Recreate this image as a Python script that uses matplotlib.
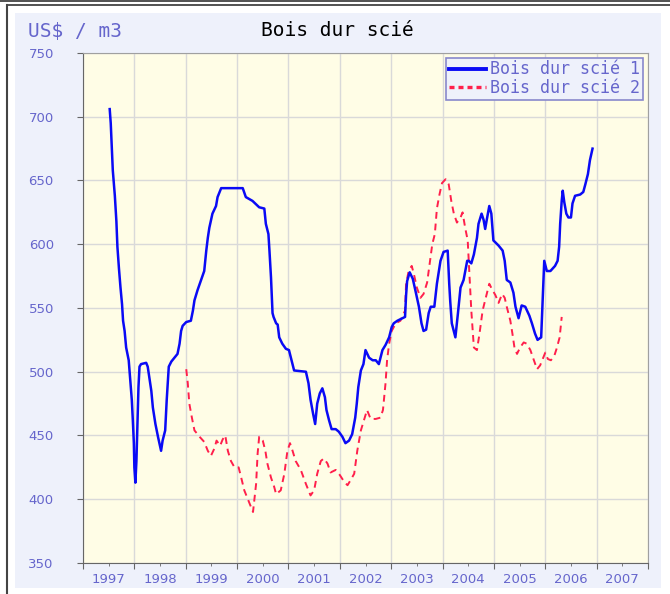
import matplotlib
matplotlib.use("Agg")
import matplotlib.pyplot as plt
from matplotlib.patches import Rectangle
from matplotlib.lines import Line2D
from matplotlib.ticker import FixedLocator, NullFormatter

# Bois dur scié 1 (decimal year, US$/m3)
blue_t = [1997.52, 1997.54, 1997.56, 1997.58, 1997.62, 1997.65, 1997.67, 1997.70, 1997.73, 1997.76,
          1997.78, 1997.81, 1997.84, 1997.89, 1997.92, 1997.95, 1997.97, 1997.99, 1998.00, 1998.02,
          1998.04, 1998.06, 1998.08, 1998.10, 1998.13, 1998.23, 1998.26, 1998.30, 1998.33, 1998.36,
          1998.41, 1998.46, 1998.52, 1998.55, 1998.60, 1998.63, 1998.67, 1998.72, 1998.78, 1998.84,
          1998.88, 1998.91, 1998.94, 1999.01, 1999.10, 1999.14, 1999.17, 1999.23, 1999.30, 1999.36,
          1999.40, 1999.43, 1999.46, 1999.52, 1999.59, 1999.62, 1999.69, 2000.11, 2000.17, 2000.30,
          2000.43, 2000.53, 2000.56, 2000.61, 2000.63, 2000.66, 2000.68, 2000.69, 2000.71, 2000.76,
          2000.79, 2000.82, 2000.88, 2000.95, 2001.01, 2001.08, 2001.11, 2001.34, 2001.39, 2001.43,
          2001.48, 2001.52, 2001.56, 2001.61, 2001.66, 2001.71, 2001.74, 2001.79, 2001.84, 2001.92,
          2001.98, 2002.05, 2002.11, 2002.18, 2002.24, 2002.30, 2002.33, 2002.36, 2002.41, 2002.46,
          2002.50, 2002.57, 2002.64, 2002.70, 2002.76, 2002.83, 2002.89, 2002.96, 2003.01, 2003.05,
          2003.12, 2003.27, 2003.29, 2003.31, 2003.36, 2003.42, 2003.47, 2003.54, 2003.59, 2003.63,
          2003.68, 2003.73, 2003.77, 2003.84, 2003.89, 2003.96, 2004.02, 2004.10, 2004.13, 2004.15,
          2004.18, 2004.25, 2004.30, 2004.35, 2004.41, 2004.48, 2004.51, 2004.56, 2004.61, 2004.67,
          2004.70, 2004.76, 2004.80, 2004.83, 2004.86, 2004.91, 2004.95, 2004.99, 2005.09, 2005.17,
          2005.21, 2005.25, 2005.32, 2005.38, 2005.42, 2005.48, 2005.54, 2005.61, 2005.69, 2005.74,
          2005.80, 2005.85, 2005.92, 2005.95, 2005.98, 2006.03, 2006.10, 2006.19, 2006.24, 2006.27,
          2006.29, 2006.32, 2006.34, 2006.37, 2006.41, 2006.45, 2006.50, 2006.53, 2006.58, 2006.68,
          2006.74, 2006.78, 2006.83, 2006.87, 2006.92]
blue_v = [706, 695, 677, 658, 638, 618, 598, 581, 566, 553,
          540, 532, 519, 509, 493, 478, 462, 444, 425, 413,
          430, 459, 488, 504, 506, 507, 504, 493, 485, 472,
          459, 449, 438, 446, 454, 478, 504, 508, 511, 514,
          522, 532, 536, 539, 540, 548, 556, 564, 572, 579,
          595, 605, 613, 624, 630, 637, 644, 644, 637, 634,
          629, 628, 616, 608, 595, 574, 556, 546, 543, 538,
          537, 527, 522, 518, 517, 506, 501, 500, 491, 478,
          467, 459, 475, 483, 487, 480, 470, 462, 455, 455,
          453, 449, 444, 446, 451, 464, 475, 488, 501, 506,
          517, 511, 509, 509, 506, 517, 521, 527, 535, 538,
          540, 543, 560, 571, 578, 573, 564, 551, 538, 532,
          533, 546, 551, 551, 569, 587, 594, 595, 569, 555,
          538, 527, 546, 566, 572, 587, 587, 585, 592, 605,
          616, 624, 619, 612, 619, 630, 624, 603, 599, 595,
          587, 572, 570, 562, 551, 542, 552, 551, 544, 538,
          530, 525, 527, 558, 587, 579, 579, 583, 587, 598,
          616, 634, 642, 633, 624, 621, 621, 632, 638, 639,
          641, 647, 655, 666, 675]

# Bois dur scié 2
red_t = [1999.01, 1999.04, 1999.07, 1999.12, 1999.17, 1999.27, 1999.36, 1999.43, 1999.49, 1999.56,
         1999.60, 1999.67, 1999.72, 1999.77, 1999.82, 1999.88, 1999.95, 2000.03, 2000.08, 2000.14,
         2000.20, 2000.27, 2000.31, 2000.37, 2000.40, 2000.43, 2000.50, 2000.55, 2000.59, 2000.66,
         2000.72, 2000.76, 2000.85, 2000.92, 2000.98, 2001.03, 2001.08, 2001.14, 2001.24, 2001.34,
         2001.43, 2001.50, 2001.56, 2001.63, 2001.69, 2001.76, 2001.82, 2001.92, 2002.00, 2002.08,
         2002.15, 2002.21, 2002.28, 2002.34, 2002.41, 2002.47, 2002.53, 2002.60, 2002.70, 2002.79,
         2002.84, 2002.89, 2002.92, 2002.96, 2003.01, 2003.09, 2003.18, 2003.27, 2003.29, 2003.34,
         2003.40, 2003.44, 2003.50, 2003.57, 2003.63, 2003.70, 2003.75, 2003.80, 2003.85, 2003.89,
         2003.94, 2003.99, 2004.06, 2004.12, 2004.17, 2004.22, 2004.28, 2004.35, 2004.39, 2004.44,
         2004.49, 2004.52, 2004.56, 2004.61, 2004.67, 2004.72, 2004.78, 2004.86, 2004.91, 2004.96,
         2005.03, 2005.09, 2005.16, 2005.21, 2005.25, 2005.32, 2005.36, 2005.40, 2005.45, 2005.51,
         2005.58, 2005.64, 2005.71, 2005.77, 2005.84, 2005.90, 2005.95, 2006.00, 2006.05, 2006.11,
         2006.18, 2006.22, 2006.28, 2006.32]
red_v = [502, 491, 475, 464, 454, 449, 445, 438, 434, 440,
         446, 442, 447, 450, 438, 430, 425, 425, 417, 407,
         401, 394, 390, 412, 436, 449, 446, 438, 428, 417,
         410, 404, 407, 420, 438, 444, 438, 430, 423, 412,
         403, 407, 420, 430, 432, 428, 421, 423, 419, 414,
         411, 415, 420, 438, 454, 462, 470, 463, 463, 464,
         470, 491, 509, 522, 532, 538, 540, 548, 569, 579,
         583, 577, 566, 558, 561, 570, 585, 600, 608, 628,
         639, 648, 651, 647, 634, 624, 617, 621, 625, 613,
         603, 579, 548, 519, 517, 530, 548, 561, 569, 565,
         560, 554, 561, 558, 551, 540, 530, 519, 514, 519,
         523, 522, 517, 510, 502, 505, 510, 515, 510, 509,
         513, 518, 527, 543]

years = list(range(1997, 2008))

W, H = 670, 594
fig = plt.figure(figsize=(W / 100, H / 100), dpi=100)
fig.patch.set_facecolor('white')

# outer frame and light panel
fig.add_artist(Rectangle((15 / W, 1 - 588 / H), (661 - 15) / W, (588 - 13) / H,
                         transform=fig.transFigure, facecolor='#eef1fb', edgecolor='none', zorder=-10))
fig.add_artist(Line2D([0, 1], [1 - 1 / H, 1 - 1 / H], transform=fig.transFigure, color='#333333', lw=1.2))
fig.add_artist(Line2D([6.5 / W, 1], [1 - 4.5 / H, 1 - 4.5 / H], transform=fig.transFigure, color='#333333', lw=1.2))
fig.add_artist(Line2D([6.5 / W, 6.5 / W], [0, 1 - 4.5 / H], transform=fig.transFigure, color='#444444', lw=1.5))

ax = fig.add_axes([83 / W, 1 - 563 / H, (648 - 83) / W, (563 - 53) / H])
ax.set_facecolor('#fffde6')

ax.plot(blue_t, blue_v, color='#0a0af5', lw=1.8, label='Bois dur scié 1', zorder=3)
ax.plot(red_t, red_v, color='#ff1f4b', lw=1.4, dashes=(3.5, 2.5), label='Bois dur scié 2', zorder=2)

ax.set_xlim(1997, 2008)
ax.set_ylim(350, 750)

ax.xaxis.set_major_locator(FixedLocator(years + [2008]))
ax.xaxis.set_major_formatter(NullFormatter())
ax.xaxis.set_minor_locator(FixedLocator([y + 0.5 for y in years]))
ax.set_xticklabels([str(y) for y in years], minor=True)
ax.set_yticks(range(350, 751, 50))

ax.grid(True, which='major', color='#d9d9d9', lw=1)
ax.set_axisbelow(True)

ax.tick_params(axis='x', which='major', length=4, color='#666666', direction='out')
ax.tick_params(axis='x', which='minor', length=2, color='#666666', pad=5,
               labelsize=9.5, labelcolor='#6666cc')
ax.tick_params(axis='y', which='major', length=4, color='#666666', pad=17,
               labelsize=9.5, labelcolor='#6666cc')
for s in ['left', 'bottom']:
    ax.spines[s].set_color('#666666')
for s in ['top', 'right']:
    ax.spines[s].set_color('#a0a0a0')

fig.text(28 / W, 1 - 31 / H, 'US$ / m3', family='DejaVu Sans Mono', fontsize=14,
         color='#6666cc', va='center', ha='left')
fig.text(337 / W, 1 - 31 / H, 'Bois dur scié', family='DejaVu Sans Mono', fontsize=14,
         color='black', va='center', ha='center')

leg = ax.legend(loc='upper right', prop={'family': 'DejaVu Sans Mono', 'size': 12},
                labelcolor='#6666cc', facecolor='#eef1fb', edgecolor='#8888cc',
                framealpha=1, fancybox=False, borderaxespad=0.3, borderpad=0.15,
                labelspacing=0.05, handlelength=2.2, handletextpad=0.3)
leg.get_frame().set_linewidth(1.2)
leg.legend_handles[0].set_linewidth(2.8)
leg.legend_handles[1].set_linewidth(2.4)
leg.legend_handles[1].set_dashes((1.5, 1.2))

fig.savefig('out.png', dpi=100)
